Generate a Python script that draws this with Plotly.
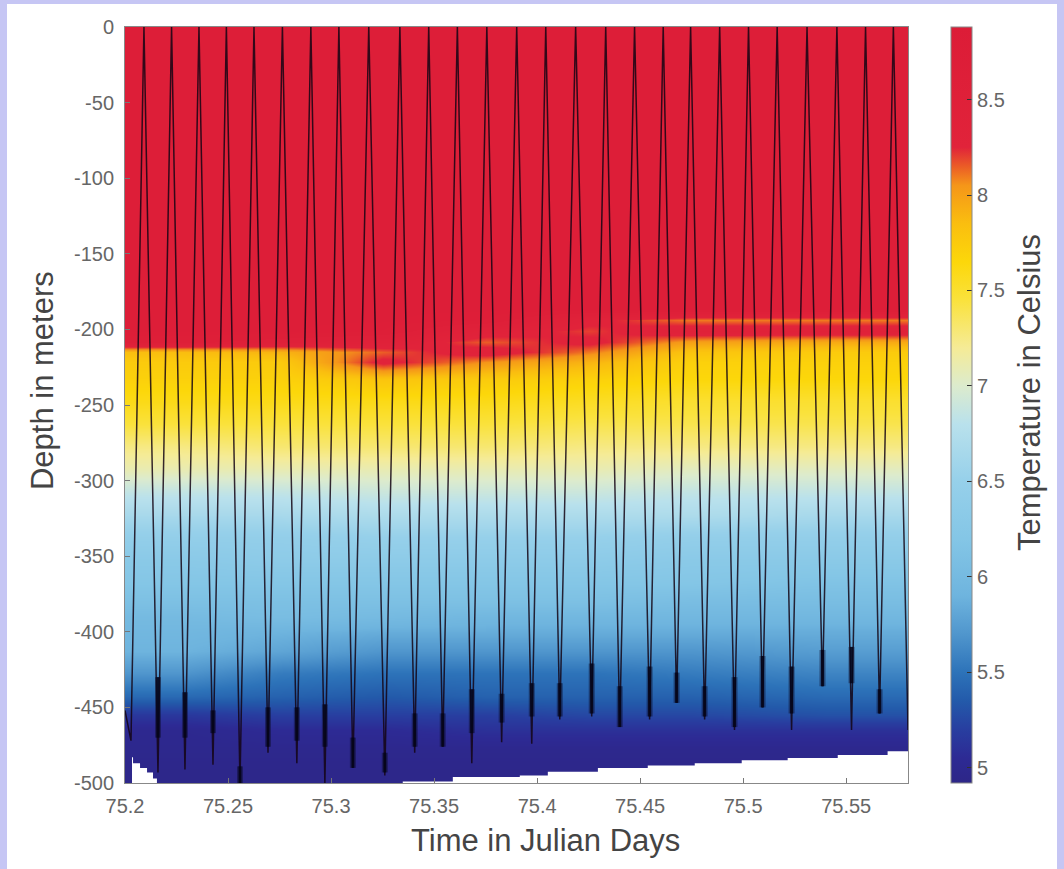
import numpy as np
import plotly.graph_objects as go

# ---------------- data ----------------
# heatmap column edges (Julian day)
time_edges = [75.2034, 75.25, 75.30, 75.35, 75.40, 75.45, 75.50, 75.58]
# depth layer edges (m), top to bottom
depth_edges = [0, -183, -190, -197, -205, -212, -218, -225, -240, -255, -270, -285, -300,
               -315, -330, -345, -360, -375, -385, -395, -405, -420, -435, -450,
               -460, -470, -485, -500]
# temperature (deg C) per layer, one list per time column (top to bottom)
temp_c1 = [8.7, 8.7, 8.7, 8.7, 8.6, 7.85, 7.75, 7.7, 7.6, 7.45, 7.25, 7.1, 6.85, 6.65, 6.45,
           6.3, 6.2, 6.1, 6.0, 5.95, 5.9, 5.7, 5.45, 5.15, 5.0, 4.98, 4.95]
temp_c2 = [8.7, 8.7, 8.7, 8.7, 8.5, 7.9, 7.75, 7.7, 7.6, 7.45, 7.3, 7.1, 6.85, 6.65, 6.45,
           6.35, 6.2, 6.1, 6.05, 5.9, 5.8, 5.55, 5.4, 5.2, 5.05, 4.98, 4.95]
temp_c3 = [8.7, 8.7, 8.7, 8.65, 8.4, 8.15, 8.3, 7.8, 7.6, 7.45, 7.3, 7.1, 6.9, 6.7, 6.5,
           6.35, 6.2, 6.1, 6.0, 5.85, 5.7, 5.5, 5.35, 5.2, 5.05, 4.98, 4.95]
temp_c4 = [8.7, 8.7, 8.65, 8.35, 8.15, 8.35, 8.05, 7.75, 7.6, 7.45, 7.3, 7.1, 6.9, 6.7, 6.5,
           6.35, 6.2, 6.1, 5.95, 5.85, 5.7, 5.5, 5.4, 5.2, 5.1, 4.98, 4.95]
temp_c5 = [8.7, 8.7, 8.3, 8.2, 8.3, 8.1, 7.9, 7.7, 7.55, 7.4, 7.25, 7.1, 6.9, 6.7, 6.5,
           6.35, 6.2, 6.1, 5.95, 5.85, 5.7, 5.5, 5.4, 5.25, 5.1, 4.98, 4.95]
temp_c6 = [8.7, 8.7, 8.1, 8.4, 8.0, 7.8, 7.7, 7.65, 7.5, 7.4, 7.25, 7.05, 6.85, 6.7, 6.45,
           6.3, 6.2, 6.05, 5.95, 5.85, 5.7, 5.55, 5.4, 5.25, 5.1, 4.98, 4.95]
temp_c7 = [8.7, 8.7, 8.1, 8.4, 7.95, 7.75, 7.7, 7.65, 7.5, 7.4, 7.25, 7.05, 6.85, 6.65, 6.45,
           6.3, 6.15, 6.05, 5.95, 5.85, 5.75, 5.6, 5.45, 5.3, 5.1, 4.98, 4.95]

# profiler path: turning points (time, depth)
top_turn_time = [75.2092, 75.2226, 75.2359, 75.2492, 75.2626, 75.2764, 75.2902, 75.3038,
                 75.3183, 75.3334, 75.3474, 75.3613, 75.3756, 75.3901, 75.4042, 75.4187,
                 75.4333, 75.4473, 75.4612, 75.4745, 75.4886, 75.5026, 75.5165, 75.5310,
                 75.5455, 75.5594, 75.5729]
bottom_turn_time = [75.2160, 75.2291, 75.2427, 75.2558, 75.2694, 75.2834, 75.2970, 75.3106,
                    75.3261, 75.3406, 75.3542, 75.3683, 75.3828, 75.3974, 75.4110, 75.4265,
                    75.4401, 75.4546, 75.4677, 75.4813, 75.4958, 75.5094, 75.5235, 75.5385,
                    75.5526, 75.5662]
bottom_turn_depth = [-493, -491, -488, -500, -480, -487, -500, -490, -495, -480, -476, -487,
                     -473, -474, -458, -456, -463, -458, -447, -458, -465, -450, -465, -436,
                     -465, -454]
# dark "lingering" segments near each bottom turn
blob_top = [-430, -440, -452, -489, -450, -450, -448, -470, -480, -454, -454, -438, -441,
            -434, -434, -421, -436, -423, -427, -436, -430, -416, -423, -412, -410, -438]
blob_bottom = [-470, -470, -467, -500, -476, -472, -476, -490, -493, -476, -476, -467, -460,
               -456, -456, -454, -463, -456, -447, -456, -463, -450, -454, -436, -434, -454]
path_start_time = [75.2000, 75.2029]
path_start_depth = [-452, -472]
path_end_time = 75.5800
path_end_depth = -465

# deepest depth reached (lower data boundary), step-wise
bottom_time = [75.2034, 75.2039, 75.2073, 75.2107, 75.2136, 75.2155, 75.3348, 75.3591,
               75.3916, 75.4052, 75.4295, 75.4537, 75.4765, 75.4993, 75.5216, 75.5459,
               75.5701, 75.5800]
bottom_depth = [-483, -487, -490, -493, -497, -500, -499, -496, -495, -492.5, -490, -488.5,
                -487, -485, -483.5, -481.5, -479, -479]

# colour map (temperature stops and colours)
cs_temps = [4.92, 5.05, 5.2, 5.35, 5.5, 5.7, 5.9, 6.2, 6.5, 6.8, 7.0, 7.2, 7.45, 7.65,
            7.85, 8.05, 8.15, 8.25, 8.88]
cs_colors = ["rgb(45,38,135)", "rgb(45,42,148)", "rgb(40,62,160)", "rgb(35,90,170)",
             "rgb(45,115,185)", "rgb(80,150,205)", "rgb(110,180,222)", "rgb(132,198,230)",
             "rgb(150,208,234)", "rgb(185,225,236)", "rgb(220,235,205)", "rgb(245,235,150)",
             "rgb(250,226,60)", "rgb(252,215,10)", "rgb(250,190,15)", "rgb(245,150,25)",
             "rgb(235,92,38)", "rgb(225,35,58)", "rgb(220,28,55)"]
cmin, cmax = 4.92, 8.88

depth_ticks = [0, -50, -100, -150, -200, -250, -300, -350, -400, -450, -500]
depth_ticklabels = ["0", "-50", "-100", "-150", "-200", "-250", "-300", "-350", "-400",
                    "-450", "-500"]
time_ticks = [75.2, 75.25, 75.3, 75.35, 75.4, 75.45, 75.5, 75.55]
time_ticklabels = ["75.2", "75.25", "75.3", "75.35", "75.4", "75.45", "75.5", "75.55"]
temp_ticks = [5, 5.5, 6, 6.5, 7, 7.5, 8, 8.5]
temp_ticklabels = ["5", "5.5", "6", "6.5", "7", "7.5", "8", "8.5"]

x_title = "Time in Julian Days"
y_title = "Depth in meters"
c_title = "Temperature in Celsius"

# ---------------- build figure ----------------
# cell centres for smoothed rendering (edges duplicated so the field fills its range)
cols = np.array([temp_c1, temp_c2, temp_c3, temp_c4, temp_c5, temp_c6, temp_c7])
te = np.array(time_edges)
de = np.array(depth_edges)
xc = np.concatenate([[te[0]], (te[:-1] + te[1:]) / 2, [te[-1]]])
yc = np.concatenate([[de[0]], (de[:-1] + de[1:]) / 2, [de[-1]]])
z = cols.T  # (layers, columns)
z = np.vstack([z[:1], z, z[-1:]])
z = np.hstack([z[:, :1], z, z[:, -1:]])
z = z[::-1]
yc = yc[::-1]

colorscale = [[(t - cmin) / (cmax - cmin), c] for t, c in zip(cs_temps, cs_colors)]

font_family = "Liberation Sans, Arial, sans-serif"
fig = go.Figure()
fig.add_trace(go.Heatmap(
    x=xc, y=yc, z=z, zmin=cmin, zmax=cmax, colorscale=colorscale,
    zsmooth="best", hoverinfo="skip",
    colorbar=dict(
        x=1.0549, xanchor="left", xpad=0, y=0.5, yanchor="middle", len=1.0,
        lenmode="fraction", ypad=0, thickness=21, outlinewidth=1, outlinecolor="#888",
        tickmode="array", tickvals=temp_ticks, ticktext=temp_ticklabels,
        ticks="inside", ticklen=5, tickcolor="#333", tickwidth=1,
        tickfont=dict(family=font_family, size=20, color="#666"),
    ),
))

# white area below the deepest data
poly_x = list(bottom_time) + [bottom_time[-1], bottom_time[0]]
poly_y = list(bottom_depth) + [-510, -510]
fig.add_trace(go.Scatter(x=poly_x, y=poly_y, mode="lines", fill="toself",
                         fillcolor="white", line=dict(width=0, color="white", shape="hv"),
                         hoverinfo="skip", showlegend=False))

# profiler path zig-zag
px_ = list(path_start_time)
py_ = list(path_start_depth)
for i in range(len(bottom_turn_time)):
    px_ += [top_turn_time[i], bottom_turn_time[i]]
    py_ += [0, bottom_turn_depth[i]]
px_ += [top_turn_time[-1], path_end_time]
py_ += [0, path_end_depth]
fig.add_trace(go.Scatter(x=px_, y=py_, mode="lines",
                         line=dict(color="rgba(20,5,20,0.85)", width=1.5),
                         hoverinfo="skip", showlegend=False))

# lingering segments: a thin dark core with a softer halo
bx, by = [], []
for t, a, b in zip(bottom_turn_time, blob_top, blob_bottom):
    bx += [t, t, None]
    by += [a, b, None]
fig.add_trace(go.Scatter(x=bx, y=by, mode="lines",
                         line=dict(color="rgba(10,10,40,0.45)", width=6),
                         hoverinfo="skip", showlegend=False))
fig.add_trace(go.Scatter(x=bx, y=by, mode="lines",
                         line=dict(color="rgba(5,5,25,0.85)", width=3),
                         hoverinfo="skip", showlegend=False))

axis_font = dict(family=font_family, size=20, color="#666")
title_font = dict(family=font_family, size=31, color="#444")

fig.update_layout(
    width=1064, height=869,
    margin=dict(l=125, r=156, t=27, b=86, autoexpand=False),
    paper_bgcolor="#c6c6f4", plot_bgcolor="white",
    showlegend=False,
    xaxis=dict(range=[75.2, 75.58], tickmode="array", tickvals=time_ticks,
               ticktext=time_ticklabels, ticks="inside", ticklen=5, tickcolor="#777",
               showline=True, linecolor="#888", linewidth=1, mirror=True, automargin=False,
               showgrid=False, zeroline=False, tickfont=axis_font, ticklabelstandoff=5),
    yaxis=dict(range=[-500, 0], tickmode="array", tickvals=depth_ticks,
               ticktext=depth_ticklabels, ticks="inside", ticklen=5, tickcolor="#777",
               showline=True, linecolor="#888", linewidth=1, mirror=True, automargin=False,
               showgrid=False, zeroline=False, tickfont=axis_font, ticklabelstandoff=6),
    annotations=[
        dict(text=x_title, xref="paper", yref="paper", x=0.5364, y=-0.0754,
             xanchor="center", yanchor="middle", showarrow=False, font=title_font),
        dict(text=y_title, xref="paper", yref="paper", x=-0.1060, y=0.5317,
             xanchor="center", yanchor="middle", showarrow=False, font=title_font,
             textangle=-90),
        dict(text=c_title, xref="paper", yref="paper", x=1.1558, y=0.5172,
             xanchor="center", yanchor="middle", showarrow=False, font=title_font,
             textangle=-90),
    ],
    shapes=[dict(type="rect", xref="paper", yref="paper", x0=-0.1507, x1=1.1903,
                 y0=-0.13, y1=1.0304, fillcolor="white", line=dict(width=0),
                 layer="below")],
)

fig.write_html("out.html", config={"displayModeBar": False},
               post_script="document.body.style.margin='0';document.body.style.overflow='hidden';")
